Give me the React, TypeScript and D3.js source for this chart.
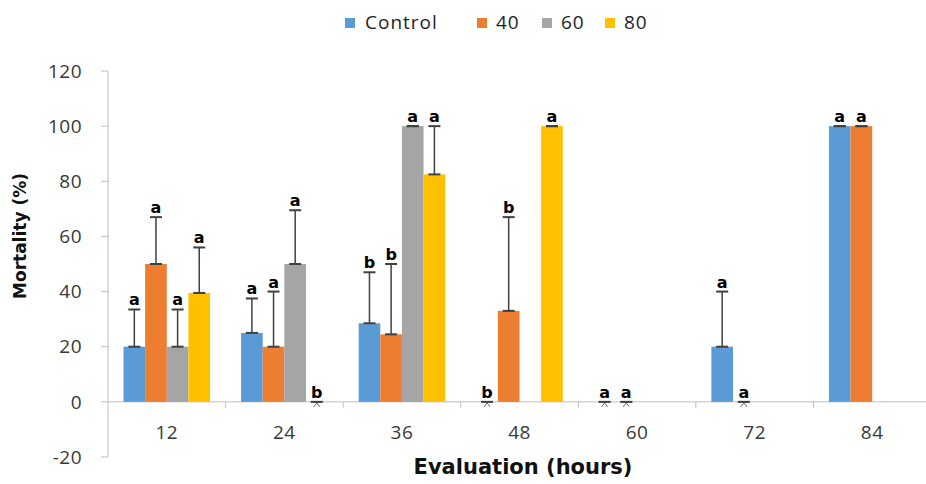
import React from 'react'
import * as d3 from 'd3'

const W = 926
const H = 484

// categories (hours) and treatments
const HOURS = ['12', '24', '36', '48', '60', '72', '84']
const SERIES = ['Control', '40', '60', '80']
const COLORS = ['#5B9BD5', '#ED7D31', '#A5A5A5', '#FFC000']

// mean mortality (%), null = no bar
const CONTROL = [20, 25, 28.5, 0, 0, 20, 100]
const T40 = [50, 20, 24.5, 33, 0, 0, 100]
const T60 = [20, 50, 100, null, null, null, null]
const T80 = [39.5, 0, 82.5, 100, null, null, null]

// upper error (+)
const ERR_CONTROL = [13.5, 12.5, 18.5, 0, 0, 20, 0]
const ERR_40 = [17, 20, 25.5, 34, 0, 0, 0]
const ERR_60 = [13.5, 19.5, 0, 0, 0, 0, 0]
const ERR_80 = [16.5, 0, 17.5, 0, 0, 0, 0]

// significance letters
const LET_CONTROL = ['a', 'a', 'b', 'b', 'a', 'a', 'a']
const LET_40 = ['a', 'a', 'b', 'b', 'a', 'a', 'a']
const LET_60 = ['a', 'a', 'a', '', '', '', '']
const LET_80 = ['a', 'b', 'a', 'a', '', '', '']

const Y_TICKS = [-20, 0, 20, 40, 60, 80, 100, 120]

const VALUES = [CONTROL, T40, T60, T80]
const ERRORS = [ERR_CONTROL, ERR_40, ERR_60, ERR_80]
const LETTERS = [LET_CONTROL, LET_40, LET_60, LET_80]

const FONT = '"Open Sans", "Liberation Sans", sans-serif'
const BOLD = '"DejaVu Sans", "Liberation Sans", sans-serif'

export default function App() {
  const x0 = d3.scaleBand().domain(HOURS).range([108, 931])
  const x1 = d3.scaleBand().domain(SERIES).range([15.5, x0.bandwidth() - 15.5])
  const y = d3.scaleLinear().domain([-20, 120]).range([457, 71])

  const legendX = [345, 477, 542, 605]

  return (
    <svg width={W} height={H} style={{ position: 'absolute', left: 0, top: 0, background: '#fff' }}>
      {/* legend */}
      {SERIES.map((s, i) => (
        <g key={s} transform={`translate(${legendX[i]}, 18)`}>
          <rect width={10} height={10} fill={COLORS[i]} />
          <text x={i === 0 ? 20 : 19} y={11} fontSize={19} letterSpacing={1} fontWeight={500} fontFamily={FONT} fill="#1e1e1e">{s}</text>
        </g>
      ))}

      {/* y axis */}
      <line x1={108} x2={108} y1={y(120)} y2={y(-20)} stroke="#bfbfbf" />
      {Y_TICKS.map(t => (
        <g key={t}>
          <line x1={101} x2={108} y1={y(t)} y2={y(t)} stroke="#bfbfbf" />
          <text x={82} y={y(t)} dy="0.35em" textAnchor="end" fontSize={19} letterSpacing={0.5} fontWeight={500} fontFamily={FONT} fill="#383838">{t}</text>
        </g>
      ))}
      <text transform={`translate(26, 236) rotate(-90)`} textAnchor="middle" fontSize={17} fontWeight="bold" fontFamily={BOLD} fill="#111">Mortality (%)</text>

      {/* x axis */}
      <line x1={108} x2={W} y1={y(0)} y2={y(0)} stroke="#bfbfbf" />
      {HOURS.map(h => (
        <g key={h}>
          <line x1={x0(h)! + x0.bandwidth()} x2={x0(h)! + x0.bandwidth()} y1={y(0)} y2={y(0) + 6} stroke="#bfbfbf" />
          <text x={x0(h)! + x0.bandwidth() / 2} y={432} dy="0.35em" textAnchor="middle" fontSize={19} letterSpacing={0.5} fontWeight={500} fontFamily={FONT} fill="#383838">{h}</text>
        </g>
      ))}
      <text x={523} y={474} textAnchor="middle" fontSize={21} fontWeight="bold" fontFamily={BOLD} fill="#111">Evaluation (hours)</text>

      {/* bars */}
      {SERIES.map((s, si) =>
        HOURS.map((h, hi) => {
          const v = VALUES[si][hi]
          if (v === null) return null
          const bx = x0(h)! + x1(s)!
          const bw = x1.bandwidth()
          const cx = bx + bw / 2
          const top = y(v + ERRORS[si][hi])
          return (
            <g key={`${s}-${h}`}>
              <rect x={bx} y={y(v)} width={bw} height={Math.max(0, y(0) - y(v))} fill={COLORS[si]} />
              <line x1={cx} x2={cx} y1={y(v)} y2={top} stroke="#404040" strokeWidth={1.5} />
              <line x1={cx - 6} x2={cx + 6} y1={top} y2={top} stroke="#404040" strokeWidth={2} />
              <line x1={cx - 6} x2={cx + 6} y1={y(v)} y2={y(v)} stroke="#404040" strokeWidth={v === 0 ? 1 : 2} />
              {v === 0 && (
                <path d={`M${cx - 3},${y(0) + 5} L${cx},${y(0) + 1} L${cx + 3},${y(0) + 5}`} fill="none" stroke="#666" strokeWidth={1} />
              )}
              <text x={cx} y={top - 4} textAnchor="middle" fontSize={16} fontWeight="bold" fontFamily={BOLD} fill="#000">{LETTERS[si][hi]}</text>
            </g>
          )
        })
      )}
    </svg>
  )
}
